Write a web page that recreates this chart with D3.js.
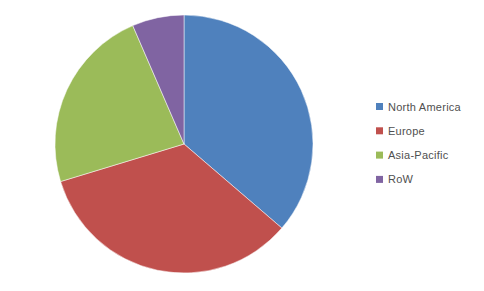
<!DOCTYPE html>
<html>
<head>
<meta charset="utf-8">
<script src="https://cdn.jsdelivr.net/npm/d3@7"></script>
<style>
  body { margin: 0; background: #fff; }
  svg { display: block; }
</style>
</head>
<body>
<svg width="484" height="291"></svg>
<script>
// chart data
var regions = ["North America", "Europe", "Asia-Pacific", "RoW"];
var shares = [36.3, 34.0, 23.2, 6.5];
var colors = ["#4f81bd", "#c0504d", "#9bbb59", "#8064a2"];

var svg = d3.select("svg"),
    cx = 184, cy = 144, radius = 129;

var data = regions.map(function(r, i) { return { region: r, value: shares[i] }; });

var color = d3.scaleOrdinal().domain(regions).range(colors);

var pie = d3.pie().sort(null).value(function(d) { return d.value; });
var arc = d3.arc().innerRadius(0).outerRadius(radius);

var g = svg.append("g").attr("transform", "translate(" + cx + "," + cy + ")");

g.selectAll("path")
  .data(pie(data))
  .enter().append("path")
  .attr("d", arc)
  .attr("fill", function(d) { return color(d.data.region); })
  .attr("stroke", "#ffffff")
  .attr("stroke-width", 0.5);

// legend
var legend = svg.append("g").attr("transform", "translate(376,103)");
var item = legend.selectAll("g")
  .data(regions)
  .enter().append("g")
  .attr("transform", function(d, i) { return "translate(0," + (i * 24.3) + ")"; });

item.append("rect")
  .attr("width", 7).attr("height", 7)
  .attr("fill", function(d) { return color(d); });

item.append("text")
  .attr("x", 12).attr("y", 7.5)
  .style("font-family", "'Liberation Sans', Arial, sans-serif")
  .style("font-size", "11px")
  .style("letter-spacing", "0.25px")
  .attr("fill", "#505050")
  .text(function(d) { return d; });
</script>
</body>
</html>
